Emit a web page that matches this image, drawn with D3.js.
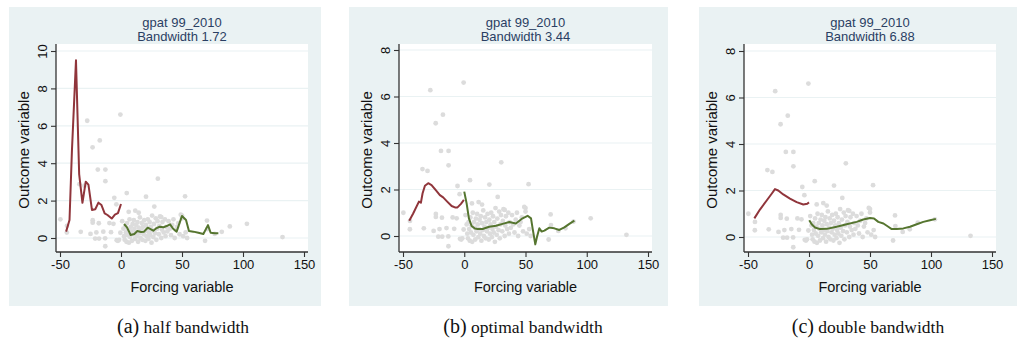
<!DOCTYPE html>
<html>
<head>
<meta charset="utf-8">
<script src="https://cdn.jsdelivr.net/npm/d3@7"></script>
<style>
  body { margin: 0; background: #fff; }
  svg { display: block; }
</style>
</head>
<body>
<div id="chart-area"></div>
<script>
let width = 1017,
height = 341;

// data
const xTicks = [-50, 0, 50, 100, 150];
const yTicksA = [0, 2, 4, 6, 8, 10];
const yTicksBC = [0, 2, 4, 6, 8];
const titles = ["Bandwidth 1.72", "Bandwidth 3.44", "Bandwidth 6.88"];
const captionLetters = ["(a)", "(b)", "(c)"];
const captionWords = ["half bandwidth", "optimal bandwidth", "double bandwidth"];

// scatter (same in every panel)
const pointsX = [-49.7, -44.4, -44.3, -33, -34.1, -30, -27.7, -25, -23.3, -23.2, -23.2, -20.2, -21.2, -18.2, -18, -17.4,
  -19, -12.8, -12.8, -14.5, -13, -12.9, -8.2, -5.5, -6.2, -9.5, -3.8, -3.5, -1.6, -0.5, -0.5, -2.5,
  4.7, 6.3, 11.7, 14.5, 20.5, 27.3, 30.2, 33, 52.5, 50, 50, 54.2, 68.9, 70.5, 70.8, 76.8, 82.6, 89.2, 103.2, 132.4,
  1, 2, 2.5, 3, 3.5, 4, 4.5, 5, 5.5, 6, 6.5, 7, 7.5, 8, 8.5, 9, 9.5, 10, 10.5, 11, 11.5, 12, 12.5, 13, 13.5, 14,
  14.5, 15, 15.5, 16, 16.5, 17, 17.5, 18, 18.5, 19, 19.5, 20, 20.5, 21, 21.5, 22, 22.5, 23, 23.5, 24, 24.5, 25,
  25.5, 26, 26.5, 27, 28, 28.5, 29, 29.5, 30, 31, 31.5, 32, 33, 33.5, 34, 35, 36, 36.5, 37, 38, 39, 40, 41, 42,
  43, 44, 45, 46, 47, 48, 49, 51, 53];
const pointsY = [1.0, 0.29, 0.65, 0.33, 2.88, 2.8, 6.27, 0.22, 4.85, 0.95, 0.82, 0.3, -0.03, 0.79, -0.03, 5.22,
  3.66, 3.66, 3.04, 0.34, -0.02, -0.44, 0.31, 2.15, 0.76, 0.8, 1.8, -0.12, -0.1, 0.28, 6.6, -0.15,
  2.4, 1.4, 1.46, 1.35, 2.21, 1.68, 3.17, 1.12, 2.23, 1.2, 1.05, 0.0, -0.15, 0.93, 0.47, 0.22, 0.33, 0.62, 0.76, 0.05,
  0.9, 0.5, 0.1, -0.1, 0.6, 0.3, -0.2, 0.8, 0.15, 0.45, -0.25, 1.0, 0.05, 0.6, 0.35, -0.15, 0.75, 0.2, 0.95, 0.5, -0.05, 0.3, 0.7, 0.1, 0.85, -0.2,
  0.55, 0.25, 1.1, 0.0, 0.4, 0.8, -0.1, 0.6, 0.2, 0.95, 0.35, -0.15, 0.7, 0.1, 0.5, 1.0, -0.05, 0.3, 0.85, 0.15, 0.6, -0.25,
  1.2, 0.4, 0.05, 0.75, 0.25, 1.05, -0.1, 0.5, 0.9, 0.2, 0.65, 1.15, 0.0, 0.45, 0.85, 0.3, 1.0, 0.1, 0.6, 0.35, 0.9, 0.5, 0.15, 0.7,
  1.0, 0.0, 0.45, 0.6, 0.8, 0.2, 1.25, 0.1, 0.3];

// local fits, left (red) and right (green) of the cutoff
const redAX = [-45, -42.2, -40.2, -36.9, -34.3, -31.6, -28.9, -26.7, -23.8, -21.1, -18.5, -16, -13.4, -11.1, -7.6, -5, -2.5, 0];
const redAY = [0.34, 0.96, 4.7, 9.5, 3.42, 1.88, 3.01, 2.85, 1.5, 1.54, 1.89, 1.76, 1.32, 1.23, 1.04, 1.25, 1.33, 1.82];
const greenAX = [2.5, 4.9, 7.9, 10.9, 13.4, 16.4, 18.9, 21.9, 26.5, 29.2, 31.7, 34.7, 37.4, 40.2, 42.9, 45.6, 50, 53.3, 55.7, 59.3, 63.4, 67.5, 71.3, 73.5, 77, 79.8];
const greenAY = [0.75, 0.57, 0.16, 0.21, 0.37, 0.32, 0.34, 0.55, 0.39, 0.53, 0.6, 0.57, 0.64, 0.73, 0.48, 0.34, 1.18, 0.96, 0.37, 0.34, 0.28, 0.21, 0.69, 0.28, 0.25, 0.25];

const redBX = [-44.9, -41.7, -37, -35.4, -34, -32.1, -29.4, -26.7, -23.4, -19.9, -17.2, -13.9, -10.3, -7.6, -5.5, -2.7, -0.3];
const redBY = [0.66, 0.97, 1.48, 1.43, 1.84, 2.16, 2.27, 2.19, 1.98, 1.76, 1.66, 1.48, 1.29, 1.23, 1.23, 1.38, 1.55];
const greenBX = [0, 1.9, 3.8, 6, 8.7, 10.9, 15, 20.4, 25.9, 31.3, 36.8, 42.2, 47.6, 51.7, 54.5, 55.8, 58, 59.4, 61.3, 63.2, 65.4, 69.4, 73.5, 77.6, 81.7, 85.8, 89.9];
const greenBY = [1.91, 1.41, 0.76, 0.43, 0.32, 0.3, 0.3, 0.4, 0.44, 0.52, 0.6, 0.54, 0.76, 0.87, 0.76, 0.33, -0.36, -0.03, 0.33, 0.19, 0.23, 0.36, 0.33, 0.26, 0.37, 0.52, 0.66];

const redCX = [-44.8, -40.2, -34.7, -30.6, -27.9, -25.2, -21.1, -15.6, -10.1, -4.7, -1.4, 0];
const redCY = [0.8, 1.18, 1.57, 1.86, 2.06, 2.0, 1.83, 1.65, 1.5, 1.4, 1.43, 1.49];
const greenCX = [0.2, 2.2, 4.9, 9, 14.5, 22.7, 30.9, 39.1, 44.5, 50, 53.3, 56.8, 61, 65, 67.8, 71.9, 77.3, 82.8, 88.3, 93.7, 99.2, 104];
const greenCY = [0.72, 0.55, 0.41, 0.34, 0.35, 0.44, 0.55, 0.65, 0.75, 0.82, 0.8, 0.65, 0.58, 0.44, 0.34, 0.34, 0.37, 0.44, 0.55, 0.65, 0.72, 0.78];

// layout of the three panels
let panels = [
  { bg: [9, 7, 321, 306], plot: [56, 44, 308, 252], yTicks: yTicksA, yRange: [238, 51],
    red: [redAX, redAY], green: [greenAX, greenAY], capX: 183 },
  { bg: [349, 7, 668, 306], plot: [399, 44, 652, 252], yTicks: yTicksBC, yRange: [236, 50],
    red: [redBX, redBY], green: [greenBX, greenBY], capX: 523 },
  { bg: [699, 7, 1017, 306], plot: [744, 44, 996, 252], yTicks: yTicksBC, yRange: [237, 51],
    red: [redCX, redCY], green: [greenCX, greenCY], capX: 868 }
];

let svg = d3.select("#chart-area").append("svg")
  .attr("width", width)
  .attr("height", height);

const bgColor = "#eaf2f3";
const font = "'Liberation Sans', Arial, sans-serif";

panels.forEach(function(p, i) {
  let g = svg.append("g");
  let [l, t, r, b] = p.plot;

  g.append("rect")
    .attr("x", p.bg[0]).attr("y", p.bg[1])
    .attr("width", p.bg[2] - p.bg[0]).attr("height", p.bg[3] - p.bg[1])
    .attr("fill", bgColor);

  g.append("rect")
    .attr("x", l).attr("y", t)
    .attr("width", r - l).attr("height", b - t)
    .attr("fill", "#fff");

  let x = d3.scaleLinear().domain([-50, 150]).range([l + 4, r - 4]);
  let y = d3.scaleLinear().domain([p.yTicks[0], p.yTicks[p.yTicks.length - 1]]).range(p.yRange);

  // gridlines
  g.selectAll(".grid")
    .data(p.yTicks)
    .enter().append("line")
    .attr("x1", l).attr("x2", r)
    .attr("y1", d => y(d)).attr("y2", d => y(d))
    .style("stroke", bgColor)
    .style("stroke-width", 1.2);

  // scatter
  g.selectAll(".pt")
    .data(pointsX.map((d, k) => [d, pointsY[k]]))
    .enter().append("circle")
    .attr("cx", d => x(d[0]))
    .attr("cy", d => y(d[1]))
    .attr("r", 2.4)
    .attr("fill", "#dcdcdc");

  let line = d3.line()
    .x(d => x(d[0]))
    .y(d => y(d[1]));

  g.append("path")
    .datum(p.red[0].map((d, k) => [d, p.red[1][k]]))
    .attr("d", line)
    .attr("fill", "none")
    .style("stroke", "#90353b")
    .style("stroke-width", 2)
    .style("stroke-linejoin", "round");

  g.append("path")
    .datum(p.green[0].map((d, k) => [d, p.green[1][k]]))
    .attr("d", line)
    .attr("fill", "none")
    .style("stroke", "#55752f")
    .style("stroke-width", 2)
    .style("stroke-linejoin", "round");

  // axes
  let xAxis = d3.axisBottom(x).tickValues(xTicks).tickSize(5).tickPadding(3);
  let xg = g.append("g").attr("transform", "translate(0," + b + ")").call(xAxis);
  xg.select(".domain").attr("d", "M" + l + ",0H" + r).style("stroke", "#333").style("stroke-width", 1.3);
  xg.selectAll(".tick line").style("stroke", "#333").style("stroke-width", 1.1);
  xg.selectAll(".tick text")
    .text(d => d)
    .style("font-family", font).style("font-size", "13px").style("fill", "#111");

  let yAxis = d3.axisLeft(y).tickValues(p.yTicks).tickSize(5).tickFormat(d => d);
  let yg = g.append("g").attr("transform", "translate(" + l + ",0)").call(yAxis);
  yg.select(".domain").attr("d", "M0," + t + "V" + b).style("stroke", "#333").style("stroke-width", 1.3);
  yg.selectAll(".tick line").style("stroke", "#333").style("stroke-width", 1.1);
  yg.selectAll(".tick text")
    .attr("x", 0).attr("dy", null)
    .attr("transform", "translate(-14,0) rotate(-90)")
    .attr("text-anchor", "middle")
    .attr("dominant-baseline", "central")
    .style("font-family", font).style("font-size", "13px").style("fill", "#111");

  // axis titles
  g.append("text")
    .attr("transform", "translate(" + (l - 33) + "," + ((t + b) / 2 + 2) + ") rotate(-90)")
    .attr("text-anchor", "middle")
    .attr("dominant-baseline", "central")
    .style("font-family", font).style("font-size", "15px").style("fill", "#111")
    .text("Outcome variable");

  g.append("text")
    .attr("x", (l + r) / 2).attr("y", 287)
    .attr("text-anchor", "middle")
    .attr("dominant-baseline", "central")
    .style("font-family", font).style("font-size", "14.5px").style("fill", "#111")
    .text("Forcing variable");

  // panel title
  let tt = g.append("text")
    .attr("text-anchor", "middle")
    .style("font-family", font).style("font-size", "13px").style("fill", "#2a3f63");
  tt.append("tspan").attr("x", (l + r) / 2).attr("y", 27).text("gpat 99_2010");
  tt.append("tspan").attr("x", (l + r) / 2).attr("y", 40.5).text(titles[i]);

  // caption
  let cap = svg.append("text")
    .attr("x", p.capX).attr("y", 333)
    .attr("text-anchor", "middle")
    .style("font-family", "'Liberation Serif', 'Times New Roman', serif")
    .style("fill", "#111");
  cap.append("tspan").style("font-size", "20px").text(captionLetters[i]);
  cap.append("tspan").style("font-size", "17.5px").text(" " + captionWords[i]);
});
</script>
</body>
</html>
